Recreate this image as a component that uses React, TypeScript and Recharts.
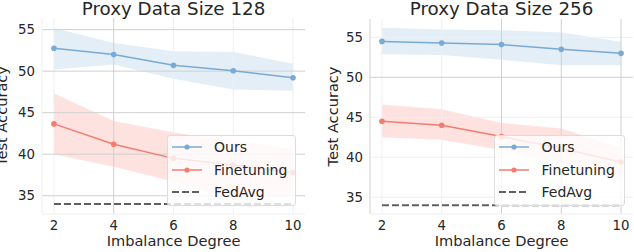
import React from 'react';
import { ComposedChart, Line, Area, XAxis, YAxis, ReferenceLine } from 'recharts';

const degrees = [2, 4, 6, 8, 10];
const xTicks = [2, 4, 6, 8, 10];
const yTicks = [35, 40, 45, 50, 55];

// proxy data size 128
const ours128 = [52.75, 52.0, 50.7, 50.05, 49.2];
const ours128Low = [50.2, 50.8, 49.1, 47.8, 47.65];
const ours128High = [55.2, 53.4, 52.4, 52.3, 50.9];
const fine128 = [43.65, 41.2, 39.5, 38.7, 37.8];
const fine128Low = [40.0, 38.5, 36.7, 34.7, 35.1];
const fine128High = [47.3, 44.0, 42.6, 41.6, 40.7];

// proxy data size 256
const ours256 = [54.5, 54.3, 54.1, 53.5, 53.0];
const ours256Low = [52.9, 52.8, 52.2, 51.5, 51.5];
const ours256High = [56.2, 56.0, 55.9, 55.6, 54.45];
const fine256 = [44.5, 44.0, 42.6, 41.1, 39.4];
const fine256Low = [42.5, 42.2, 40.9, 39.2, 37.1];
const fine256High = [46.6, 46.0, 44.3, 43.6, 41.2];

const fedAvg = [34, 34, 34, 34, 34];

const FONT = '"DejaVu Sans", sans-serif';
const TEXT = '#262626';
const BLUE = '#79aad5';
const RED = '#f67c70';
const GRAY = '#5f5f5f';
const STRONG = '#d0d0d0';
const FAINT = '#efefef';

function buildRows(ours: number[], oLo: number[], oHi: number[], fine: number[], fLo: number[], fHi: number[]) {
  return degrees.map((d, i) => ({
    degree: d,
    ours: ours[i],
    oursBand: [oLo[i], oHi[i]],
    fine: fine[i],
    fineBand: [fLo[i], fHi[i]],
    fedavg: fedAvg[i],
  }));
}

const data128 = buildRows(ours128, ours128Low, ours128High, fine128, fine128Low, fine128High);
const data256 = buildRows(ours256, ours256Low, ours256High, fine256, fine256Low, fine256High);

const legendItems = [
  { name: 'Ours', color: BLUE, dashed: false },
  { name: 'Finetuning', color: RED, dashed: false },
  { name: 'FedAvg', color: GRAY, dashed: true },
];

function LegendBox({ left, top, width }: { left: number; top: number; width: number }) {
  return (
    <div
      style={{
        position: 'absolute', left, top, width, height: 71,
        background: 'rgba(255,255,255,0.8)', border: '1px solid #dcdcdc', borderRadius: 3,
        boxSizing: 'border-box', fontFamily: FONT, fontSize: 14, color: TEXT,
      }}
    >
      {legendItems.map((it, i) => (
        <div key={it.name} style={{ position: 'absolute', left: 0, top: 0.5 + i * 22.5, height: 22, width: '100%' }}>
          <svg width={32} height={22} style={{ position: 'absolute', left: 3, top: 0 }}>
            <line x1={1} x2={31} y1={11} y2={11} stroke={it.color} strokeWidth={it.dashed ? 2 : 1.5}
              strokeDasharray={it.dashed ? '7 3' : undefined} />
            {!it.dashed && <circle cx={16} cy={11} r={2.6} fill={it.color} />}
          </svg>
          <span style={{ position: 'absolute', left: 46.5, top: 0, lineHeight: '22px', whiteSpace: 'nowrap' }}>{it.name}</span>
        </div>
      ))}
    </div>
  );
}

interface PanelProps {
  title: string;
  data: any[];
  yDomain: [number, number];
  top: number;
  right: number;
  yWidth: number;
  yLabelX: number;
  strongX: number[];
  faintX: number[];
  strongY: number[];
  faintY: number[];
  leftSpine: string;
  legendLeft: number;
  legendWidth: number;
}

function Panel(p: PanelProps) {
  const W = 317;
  const H = 252;
  const plotLeft = p.yWidth;
  const plotRight = W - p.right;
  return (
    <div style={{ position: 'relative', width: W, height: H }}>
      <div
        style={{
          position: 'absolute', left: plotLeft - 20, width: plotRight - plotLeft + 40, top: 0, textAlign: 'center',
          fontFamily: FONT, fontSize: 18.3, color: TEXT, lineHeight: '18px', whiteSpace: 'nowrap',
        }}
      >
        {p.title}
      </div>
      <ComposedChart width={W} height={H} data={p.data} margin={{ top: p.top, right: p.right, bottom: 0, left: 0 }}>
        {p.faintX.map((x) => (
          <ReferenceLine key={'fx' + x} x={x} stroke={FAINT} strokeWidth={1} />
        ))}
        {p.faintY.map((y) => (
          <ReferenceLine key={'fy' + y} y={y} stroke={FAINT} strokeWidth={1} />
        ))}
        {p.strongX.map((x) => (
          <ReferenceLine key={'sx' + x} x={x} stroke={STRONG} strokeWidth={1} />
        ))}
        {p.strongY.map((y) => (
          <ReferenceLine key={'sy' + y} y={y} stroke={STRONG} strokeWidth={1} />
        ))}
        <XAxis
          type="number"
          dataKey="degree"
          domain={[1.6, 10.4]}
          allowDataOverflow
          ticks={xTicks}
          interval={0}
          height={38}
          tickLine={false}
          axisLine={{ stroke: FAINT }}
          tickSize={0}
          tickMargin={6.5}
          tick={{ fontSize: 13.3, fill: TEXT, fontFamily: FONT }}
          label={{
            content: (props: any) => {
              const vb = props.viewBox || { x: plotLeft, y: 214, width: plotRight - plotLeft };
              return (
                <text x={vb.x + vb.width / 2} y={vb.y + 31.5} textAnchor="middle" fontSize={14.6} fill={TEXT} fontFamily={FONT}>
                  Imbalance Degree
                </text>
              );
            },
          }}
        />
        <YAxis
          type="number"
          domain={p.yDomain}
          allowDataOverflow
          ticks={yTicks}
          interval={0}
          width={p.yWidth}
          tickLine={false}
          axisLine={{ stroke: p.leftSpine }}
          tickSize={0}
          tickMargin={7}
          tick={{ fontSize: 13.3, fill: TEXT, fontFamily: FONT }}
          label={{
            content: (props: any) => {
              const vb = props.viewBox || { y: p.top, height: 214 - p.top };
              const cy = vb.y + vb.height / 2;
              return (
                <text x={p.yLabelX} y={cy} transform={`rotate(-90 ${p.yLabelX} ${cy})`} textAnchor="middle"
                  fontSize={14.6} fill={TEXT} fontFamily={FONT}>
                  Test Accuracy
                </text>
              );
            },
          }}
        />
        <Area dataKey="oursBand" stroke="none" fill={BLUE} fillOpacity={0.2} isAnimationActive={false} legendType="none" />
        <Area dataKey="fineBand" stroke="none" fill={RED} fillOpacity={0.22} isAnimationActive={false} legendType="none" />
        <Line dataKey="ours" stroke={BLUE} strokeWidth={1.5} dot={{ r: 2.8, fill: BLUE, stroke: BLUE, strokeWidth: 0 }} isAnimationActive={false} />
        <Line dataKey="fine" stroke={RED} strokeWidth={1.5} dot={{ r: 2.8, fill: RED, stroke: RED, strokeWidth: 0 }} isAnimationActive={false} />
        <Line dataKey="fedavg" stroke={GRAY} strokeWidth={2} strokeDasharray="7 3" dot={false} isAnimationActive={false} />
      </ComposedChart>
      <LegendBox left={p.legendLeft} top={134.5} width={p.legendWidth} />
    </div>
  );
}

export default function App() {
  return (
    <div style={{ position: 'absolute', left: 0, top: 0, width: 634, height: 252, display: 'flex', background: '#fff', overflow: 'hidden' }}>
      <Panel
        title="Proxy Data Size 128"
        data={data128}
        yDomain={[32.8, 56.4]}
        top={18}
        right={12}
        yWidth={42}
        yLabelX={7}
        strongX={[4]}
        faintX={[2, 6, 8, 10]}
        strongY={[35, 40, 45, 50, 55]}
        faintY={[]}
        leftSpine={FAINT}
        legendLeft={166.5}
        legendWidth={129.5}
      />
      <Panel
        title="Proxy Data Size 256"
        data={data256}
        yDomain={[32.9, 57.3]}
        top={19}
        right={1}
        yWidth={53}
        yLabelX={21}
        strongX={[6, 8, 10]}
        faintX={[2, 4]}
        strongY={[50]}
        faintY={[35, 40, 45, 55]}
        leftSpine={STRONG}
        legendLeft={177}
        legendWidth={131}
      />
    </div>
  );
}
